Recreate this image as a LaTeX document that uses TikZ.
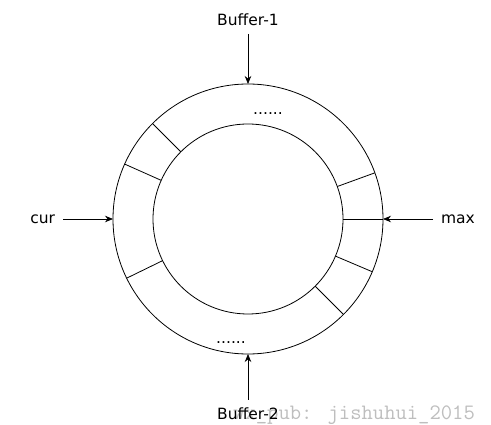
\documentclass[tikz,border=0pt]{standalone}
\usepackage{fontspec}
\setmainfont{DejaVu Sans}
\usetikzlibrary{arrows.meta,positioning}
\definecolor{markgray}{RGB}{190,190,190}

\begin{document}
\begin{tikzpicture}[x=1pt, y=-1pt,
    ring/.style={draw, circle, line width=0.8pt, inner sep=0pt, outer sep=0pt},
    lbl/.style={font=\fontsize{15.5}{18}\selectfont, inner sep=4pt, outer sep=4pt},
    dots/.style={font=\fontsize{15.5}{18}\selectfont, inner sep=0pt, anchor=base},
    >={Stealth[length=8pt,width=6.5pt]}
]
\useasboundingbox (0,0) rectangle (491,425);
\node[ring, minimum size=270pt] (outer) at (248,219) {};
\node[ring, minimum size=190pt] (inner) at (248,219) {};
% slots of the ring
\foreach \a in {135,156,206,20,0,-23,-45}
    \draw[line width=0.8pt] (inner.\a) -- (outer.\a);
\node[dots] (dotsup) at (268,115) {......};
\node[dots] (dotsdown) at (231,344) {......};
% pointers
\node[lbl, above=50pt of outer.north] (buf1) {Buffer-1};
\node[text=markgray, font=\fontsize{22}{24}\ttfamily, anchor=base west, inner sep=0pt] (mark) at (233,420) {wx\_pub: jishuhui\_2015};
\node[lbl, below=46pt of outer.south] (buf2) {Buffer-2};
\node[lbl, left=50pt of outer.west] (cur) {cur};
\node[lbl, right=50pt of outer.east] (max) {max};
\draw[->, line width=0.8pt] (buf1) -- (outer.north);
\draw[->, line width=0.8pt] (buf2) -- (outer.south);
\draw[->, line width=0.8pt] (cur) -- (outer.west);
\draw[->, line width=0.8pt] (max) -- (outer.east);
\end{tikzpicture}
\end{document}
